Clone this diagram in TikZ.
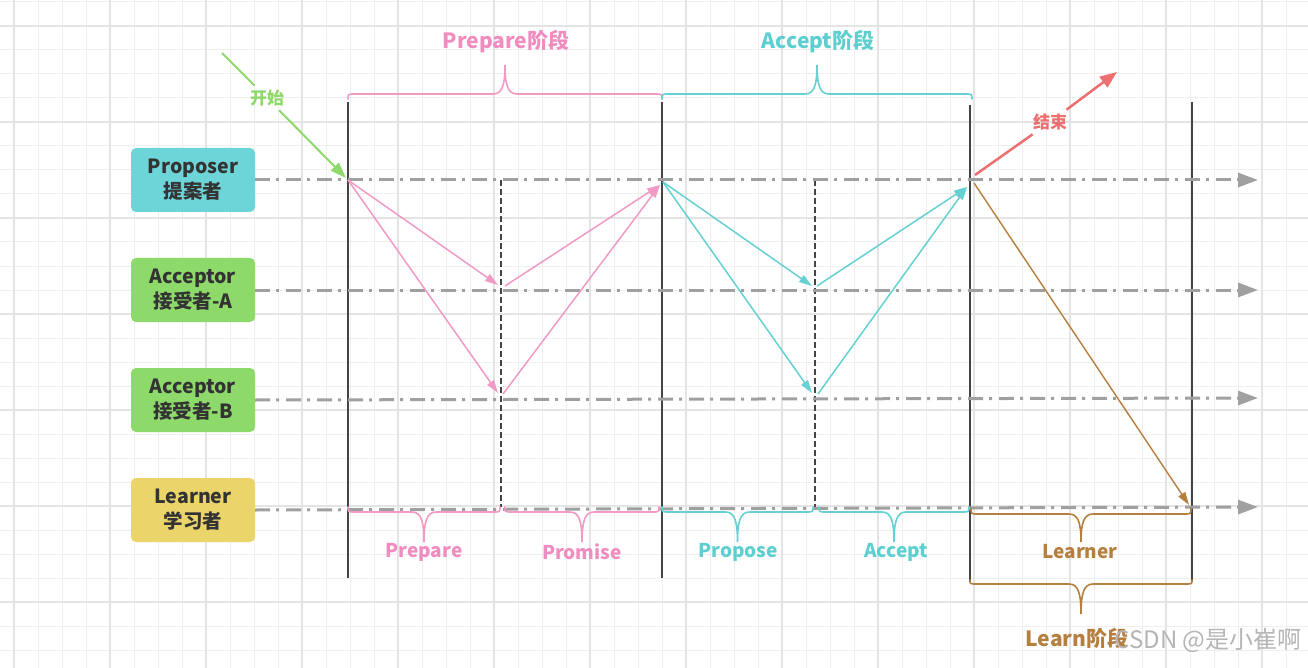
\documentclass[tikz,border=0pt]{standalone}
\usepackage{fontspec}
\setmainfont{Noto Sans CJK SC}
\usetikzlibrary{arrows.meta}
\definecolor{gridminor}{HTML}{EFEFEF}
\definecolor{gridmajor}{HTML}{E4E4E4}
\definecolor{pinkc}{HTML}{F29AC6}
\definecolor{pinkt}{HTML}{F08CBF}
\definecolor{tealc}{HTML}{66D1D3}
\definecolor{tealt}{HTML}{5ECFD1}
\definecolor{brownc}{HTML}{B5803F}
\definecolor{greenc}{HTML}{8FD86A}
\definecolor{redc}{HTML}{EE6F6F}
\definecolor{boxteal}{HTML}{6DD4D8}
\definecolor{boxgreen}{HTML}{8DD96A}
\definecolor{boxyellow}{HTML}{EBD56B}
\definecolor{textc}{HTML}{333333}
\definecolor{lifec}{HTML}{A0A0A0}
\definecolor{vlinec}{HTML}{444444}
\definecolor{wmark}{HTML}{B5B5B5}
\newcommand{\mybrace}[6]{%
  \pgfmathsetmacro\bxm{(#1+#2)/2}%
  \pgfmathsetmacro\bd{#5-#4}%
  \draw[#6, line width=1.6pt, line cap=round] (#1,#3) .. controls (#1,#4) .. (#1+7,#4)
    -- (\bxm-12,#4) .. controls (\bxm-3,#4) and (\bxm,#4+0.3*\bd) .. (\bxm,#5)
    .. controls (\bxm,#4+0.3*\bd) and (\bxm+3,#4) .. (\bxm+12,#4)
    -- (#2-7,#4) .. controls (#2,#4) .. (#2,#3);%
}
\begin{document}
\begin{tikzpicture}[x=1pt,y=-1pt,
  actor/.style={rounded corners=5pt, minimum width=124pt, minimum height=64pt,
    align=center, text=textc, inner sep=0pt,
    font=\bfseries\fontsize{19.5}{25}\selectfont},
  life/.style={draw=lifec, line width=3pt,
    dash pattern=on 15pt off 6pt on 3pt off 7pt,
    -{Triangle[length=20pt,width=14pt,fill=lifec]}},
  vline/.style={draw=vlinec, line width=1.4pt},
  dline/.style={draw=vlinec, line width=1.3pt, dash pattern=on 6pt off 3pt},
  msg/.style={line width=1.5pt, -{Triangle[length=13pt,width=8pt]}},
  lbl/.style={font=\bfseries\fontsize{19}{22}\selectfont, inner sep=0pt},
  tlbl/.style={font=\bfseries\fontsize{21}{24}\selectfont, inner sep=0pt},
  mlbl/.style={font=\bfseries\fontsize{17}{20}\selectfont, inner sep=4pt}
]
\useasboundingbox (0,0) rectangle (1308,668);
\fill[white] (0,0) rectangle (1308,668);
% grid
\foreach \x in {14,38,...,1310} \draw[gridminor, line width=1pt] (\x,0) -- (\x,668);
\foreach \y in {2,26,...,668} \draw[gridminor, line width=1pt] (0,\y) -- (1308,\y);
\foreach \x in {14,110,...,1310} \draw[gridmajor, line width=1.3pt] (\x,0) -- (\x,668);
\foreach \y in {26,122,...,668} \draw[gridmajor, line width=1.3pt] (0,\y) -- (1308,\y);

% actors
\node[actor, fill=boxteal] (prop) at (193,180) {Proposer\\提案者};
\node[actor, fill=boxgreen] (accA) at (193,290) {Acceptor\\接受者-A};
\node[actor, fill=boxgreen] (accB) at (193,400) {Acceptor\\接受者-B};
\node[actor, fill=boxyellow] (lrn) at (193,510) {Learner\\学习者};

% coordinates
\coordinate (pe) at (1258,180);
\coordinate (ae) at (1258,290);
\coordinate (be) at (1258,398);
\coordinate (le) at (1258,507);
\coordinate (v1t) at (348,102); \coordinate (v1b) at (348,578);
\coordinate (v2t) at (662,102); \coordinate (v2b) at (662,578);
\coordinate (v3t) at (970,105); \coordinate (v3b) at (970,582);
\coordinate (v4t) at (1192,102); \coordinate (v4b) at (1192,582);
\coordinate (d1t) at (501,180); \coordinate (d1b) at (501,507);
\coordinate (d2t) at (815,180); \coordinate (d2b) at (815,507);

% vertical lines
\draw[vline] (v1t) -- (v1b);
\draw[vline] (v2t) -- (v2b);
\draw[vline] (v3t) -- (v3b);
\draw[vline] (v4t) -- (v4b);
\draw[dline] (d1t) -- (d1b);
\draw[dline] (d2t) -- (d2b);

% lifelines
\draw[life] (prop.east) -- (pe);
\draw[life] (accA.east) -- (ae);
\draw[life] (accB.east) -- (be);
\draw[life] (lrn.east) -- (le);

% message points
\coordinate (p0) at (348,180);
\coordinate (pA) at (498,285);
\coordinate (pB) at (498,393);
\coordinate (pA2) at (505,286);
\coordinate (pB2) at (503,394);
\coordinate (p1) at (660,185);
\coordinate (t0) at (663,182);
\coordinate (tA) at (812,286);
\coordinate (tB) at (812,393);
\coordinate (tA2) at (817,286);
\coordinate (tB2) at (818,394);
\coordinate (t1) at (967,187);
\coordinate (b0) at (974,183);
\coordinate (b1) at (1189,505);

\draw[msg, pinkc] (p0) -- (pA);
\draw[msg, pinkc] (p0) -- (pB);
\draw[msg, pinkc] (pA2) -- (p1);
\draw[msg, pinkc] (pB2) -- (p1);
\draw[msg, tealc] (t0) -- (tA);
\draw[msg, tealc] (t0) -- (tB);
\draw[msg, tealc] (tA2) -- (t1);
\draw[msg, tealc] (tB2) -- (t1);
\draw[msg, brownc, line width=1.4pt] (b0) -- (b1);

% start / end
\coordinate (gs) at (222,53);
\coordinate (ge) at (346,178);
\node[mlbl, text=greenc] (start) at (267,98) {开始};
\draw[greenc, line width=2pt] (gs) -- (start);
\draw[greenc, line width=2pt, -{Triangle[length=16pt,width=11pt]}] (start) -- (ge);

\coordinate (rs) at (975,175);
\coordinate (re) at (1117,72);
\node[mlbl, text=redc] (stop) at (1050,122) {结束};
\draw[redc, line width=2.5pt] (rs) -- (stop);
\draw[redc, line width=2.5pt, -{Triangle[length=17pt,width=13pt]}] (stop) -- (re);

% braces
\mybrace{348}{662}{99}{94}{65}{pinkc}
\mybrace{662}{972}{99}{94}{65}{tealc}
\mybrace{348}{500}{507}{512}{542}{pinkc}
\mybrace{505}{659}{507}{512}{542}{pinkc}
\mybrace{662}{813}{507}{512}{542}{tealc}
\mybrace{819}{969}{507}{512}{542}{tealc}
\mybrace{971}{1191}{508}{514}{542}{brownc}
\mybrace{970}{1192}{580}{584}{614}{brownc}

% phase labels
\node[tlbl, text=pinkt] (lprep) at (506,42) {Prepare阶段};
\node[tlbl, text=tealt] (lacc) at (818,42) {Accept阶段};
\node[lbl, text=pinkt] (s1) at (424,552) {Prepare};
\node[lbl, text=pinkt] (s2) at (582,552) {Promise};
\node[lbl, text=tealt] (s3) at (738,552) {Propose};
\node[lbl, text=tealt] (s4) at (896,552) {Accept};
\node[lbl, text=brownc] (s5) at (1080,552) {Learner};
\node[tlbl, text=brownc] (llearn) at (1077,638) {Learn阶段};

% watermark
\node[font=\fontsize{24}{28}\selectfont, text=wmark, inner sep=0pt] (wm) at (1208,640) {CSDN @是小崔啊};
\end{tikzpicture}
\end{document}
